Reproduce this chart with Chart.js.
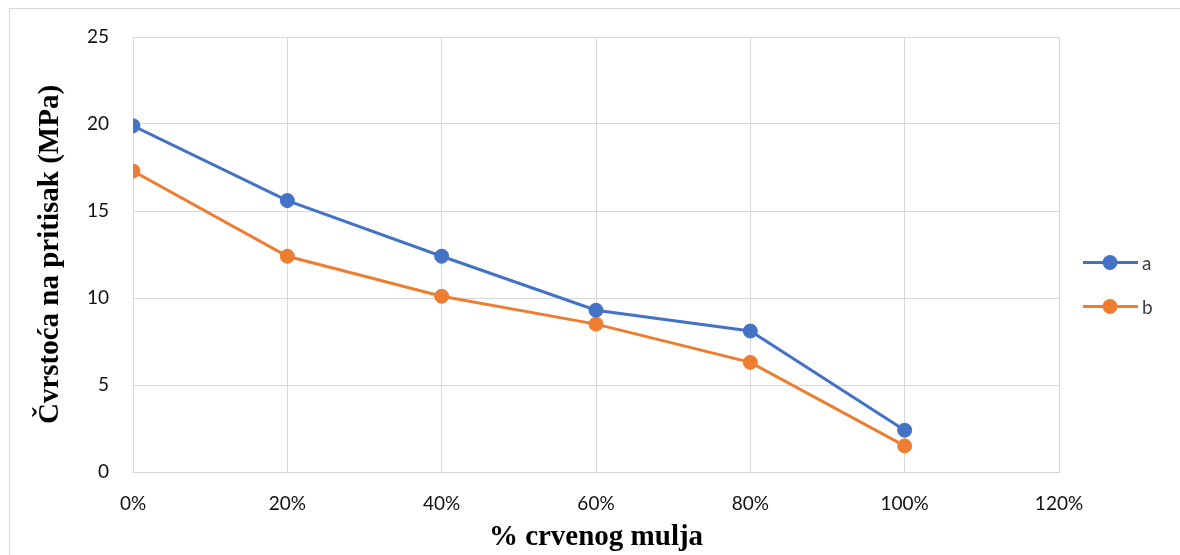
<!DOCTYPE html>
<html>
<head>
<meta charset="utf-8">
<script src="https://cdn.jsdelivr.net/npm/chart.js@4.4.1/dist/chart.umd.min.js"></script>
<style>
  html, body { margin: 0; padding: 0; background: #fff; }
  #wrap { position: relative; width: 1180px; height: 555px; overflow: hidden; }
  #frame { position: absolute; left: 9px; top: 8px; width: 1200px; height: 600px; border: 1px solid #d9d9d9; box-sizing: border-box; }
  canvas { position: absolute; left: 0; top: 0; }
</style>
</head>
<body>
<div id="wrap">
  <div id="frame"></div>
  <canvas id="c" width="1180" height="555"></canvas>
</div>
<script>
// Udio crvenog mulja (%) i čvrstoća na pritisak (MPa)
const mudShare = [0, 20, 40, 60, 80, 100];
const seriesA = [19.9, 15.6, 12.4, 9.3, 8.1, 2.4];
const seriesB = [17.3, 12.4, 10.1, 8.5, 6.3, 1.5];
const seriesNames = ['a', 'b'];
const xTicks = [0, 20, 40, 60, 80, 100, 120];
const yTicks = [0, 5, 10, 15, 20, 25];

const BLUE = '#4472C4';
const ORANGE = '#ED7D31';
const GRID = '#d9d9d9';
const TICK_FONT = { family: 'Lato, "Open Sans", sans-serif', size: 19 };
const TITLE_FONT = { family: '"Liberation Serif", "Times New Roman", serif', size: 29, weight: 'bold' };

function toPoints(vals) {
  return mudShare.map((x, i) => ({ x: x, y: vals[i] }));
}

// Legenda desno: linija s kružićem i naziv serije
const sideLegend = {
  id: 'sideLegend',
  afterDraw(chart) {
    const ctx = chart.ctx;
    const area = chart.chartArea;
    const x0 = area.right + 24;
    const mid = (area.top + area.bottom) / 2;
    chart.data.datasets.forEach((ds, i) => {
      const y = mid + 8 + i * 44;
      ctx.save();
      ctx.strokeStyle = ds.borderColor;
      ctx.lineWidth = 3;
      ctx.beginPath();
      ctx.moveTo(x0, y);
      ctx.lineTo(x0 + 55, y);
      ctx.stroke();
      ctx.fillStyle = ds.borderColor;
      ctx.beginPath();
      ctx.arc(x0 + 27, y, 7.5, 0, Math.PI * 2);
      ctx.fill();
      ctx.fillStyle = '#404040';
      ctx.font = '19px ' + TICK_FONT.family;
      ctx.textBaseline = 'middle';
      ctx.textAlign = 'left';
      ctx.fillText(ds.label, x0 + 59, y + 1);
      ctx.restore();
    });
  }
};

new Chart(document.getElementById('c'), {
  type: 'line',
  data: {
    datasets: [
      { label: seriesNames[0], data: toPoints(seriesA), borderColor: BLUE, backgroundColor: BLUE,
        borderWidth: 3, pointRadius: 7, pointHoverRadius: 7, pointBorderWidth: 1, tension: 0 },
      { label: seriesNames[1], data: toPoints(seriesB), borderColor: ORANGE, backgroundColor: ORANGE,
        borderWidth: 3, pointRadius: 7, pointHoverRadius: 7, pointBorderWidth: 1, tension: 0 }
    ]
  },
  options: {
    responsive: false,
    animation: false,
    events: [],
    layout: { padding: { top: 37, right: 121, bottom: 0, left: 0 } },
    plugins: {
      legend: { display: false },
      tooltip: { enabled: false }
    },
    scales: {
      x: {
        type: 'linear',
        min: 0, max: 120,
        afterBuildTicks(axis) { axis.ticks = xTicks.map(v => ({ value: v })); },
        afterFit(axis) { axis.height = 83; },
        ticks: { font: TICK_FONT, color: '#111', padding: 20, maxRotation: 0,
                 callback: v => v + '%' },
        grid: { color: GRID, lineWidth: 1, drawTicks: false },
        border: { color: GRID, width: 1 },
        title: { display: true, text: '% crvenog mulja', font: TITLE_FONT, color: '#000',
                 padding: { top: 0, bottom: 0 } }
      },
      y: {
        min: 0, max: 25,
        afterBuildTicks(axis) { axis.ticks = yTicks.map(v => ({ value: v })); },
        afterFit(axis) { axis.width = 133; },
        ticks: { font: TICK_FONT, color: '#111', padding: 24 },
        grid: { color: GRID, lineWidth: 1, drawTicks: false },
        border: { color: GRID, width: 1 },
        title: { display: true, text: 'Čvrstoća na pritisak (MPa)', font: TITLE_FONT, color: '#000',
                 padding: { top: 33, bottom: 0 } }
      }
    }
  },
  plugins: [sideLegend]
});
</script>
</body>
</html>
